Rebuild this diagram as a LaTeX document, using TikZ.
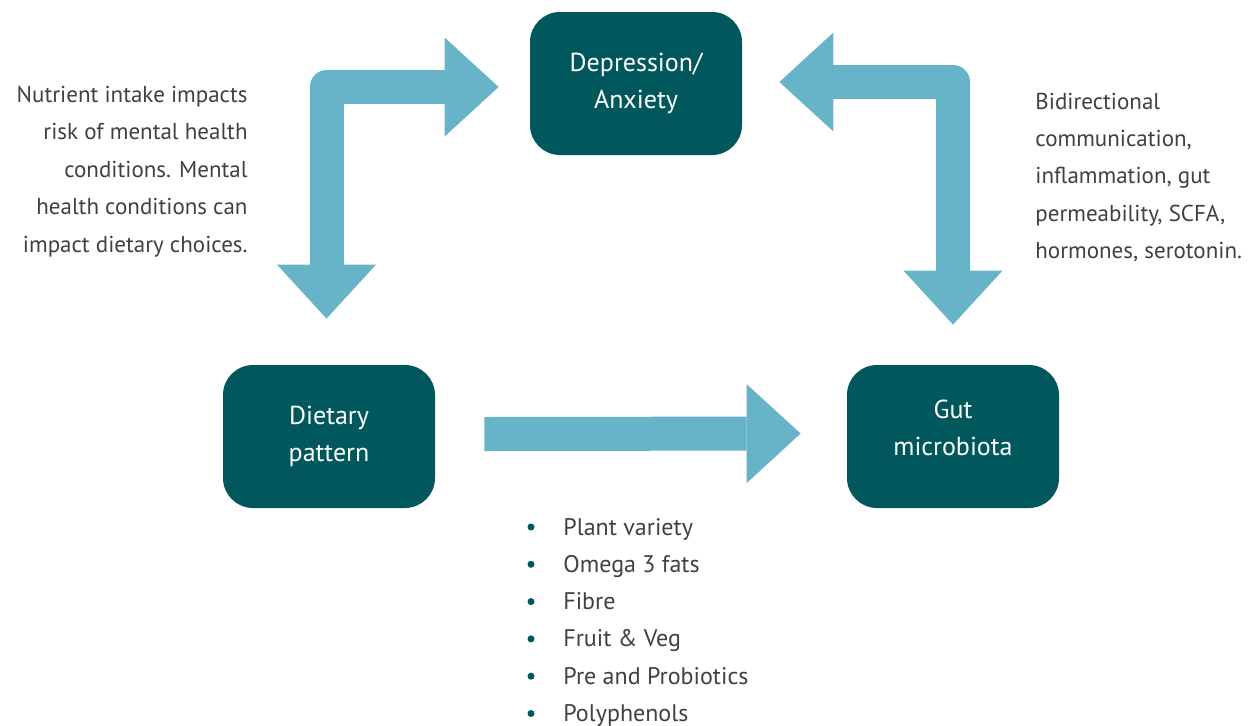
\documentclass[tikz,border=0pt]{standalone}
\usepackage{fontspec}
\setmainfont{PT Sans}
\usetikzlibrary{positioning,arrows.meta,calc}
\definecolor{boxteal}{HTML}{00575C}
\definecolor{arrowblue}{HTML}{67B3C8}
\definecolor{textgrey}{HTML}{404040}

\begin{document}
\begin{tikzpicture}[x=0.5pt, y=-0.5pt,
  every node/.style={font=\fontsize{13}{18.7}\selectfont},
  box/.style={fill=boxteal, rounded corners=15pt, minimum width=106pt, minimum height=71.5pt, text=white, align=center, inner sep=0pt},
  note/.style={text=textgrey, inner sep=0pt, font=\fontsize{11.5}{18.7}\selectfont},
  item/.style={note, font=\fontsize{12}{18.7}\selectfont},
  block/.style={draw=arrowblue, line width=17pt, line join=round},
  head/.style={-{Triangle[line width=0pt, width=49.5pt, length=27pt]}},
  heads/.style={{Triangle[line width=0pt, width=49.5pt, length=27pt]}-{Triangle[line width=0pt, width=49.5pt, length=27pt]}}]

\useasboundingbox (0,0) rectangle (1254,725);

\node[box] (dep) at (636,83.5) {Depression/\\Anxiety};
\node[box] (diet) at (329,436.5) {Dietary\\pattern};
\node[box] (gut) at (953,436.5) {\raisebox{3.5pt}[\height][\depth]{\begin{tabular}{@{}c@{}}Gut\\microbiota\end{tabular}}};

\node[note, align=right, anchor=east] (nutr) at (248,171.5) {Nutrient intake impacts\\risk of mental health\\conditions. Mental\\health conditions can\\impact dietary choices.};
\node[note, align=left, anchor=west] (comm) at (1035,177.5) {Bidirectional\\communication,\\inflammation, gut\\permeability, SCFA,\\hormones, serotonin.};

\draw[block, heads] ($(dep.west)+(-31,3.5)$) -| ($(diet.north)+(-2.5,-46)$);
\draw[block, heads] ($(dep.east)+(37,-1.5)$) -| ($(gut.north)+(0,-40)$);
\draw[block, head] ($(diet.east)+(49,-2.5)$) -- ($(gut.west)+(-46,-3)$);

\foreach \food [count=\i] in {Plant variety, Omega 3 fats, Fibre, Fruit \& Veg, Pre and Probiotics, Polyphenols} {
  \node[item, anchor=base west] (food\i) at (563,{535+37.3*(\i-1)}) {\food};
  \fill[boxteal] ($(food\i.base west)+(-32,-8)$) circle (1.75pt);
}
\end{tikzpicture}
\end{document}
